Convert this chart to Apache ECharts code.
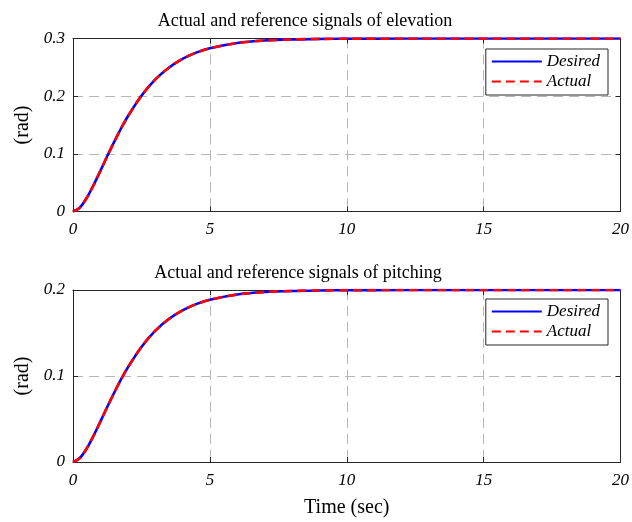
<!DOCTYPE html>
<html>
<head>
<meta charset="utf-8">
<script src="https://cdn.jsdelivr.net/npm/echarts@6/dist/echarts.min.js"></script>
<style>
  html, body { margin: 0; padding: 0; background: #fff; }
  #chart { width: 632px; height: 522px; }
</style>
</head>
<body>
<div id="chart"></div>
<script>
// Time samples (sec)
const time = [0, 0.25, 0.5, 0.75, 1, 1.25, 1.5, 1.75, 2, 2.5, 3, 3.5, 4, 4.5, 5, 6, 7, 8, 9, 10, 12, 14, 16, 18, 20];

// Elevation (rad)
const elevDesired = [0, 0.0068, 0.0235, 0.0457, 0.0705, 0.0958, 0.1204, 0.1435, 0.1647, 0.2007, 0.2286, 0.2494, 0.2646, 0.2755, 0.2831, 0.2922, 0.2964, 0.2984, 0.2993, 0.2997, 0.2999, 0.3, 0.3, 0.3, 0.3];
const elevActual  = [0, 0.0068, 0.0235, 0.0457, 0.0705, 0.0958, 0.1204, 0.1435, 0.1647, 0.2007, 0.2286, 0.2494, 0.2646, 0.2755, 0.2831, 0.2922, 0.2964, 0.2984, 0.2993, 0.2997, 0.2999, 0.3, 0.3, 0.3, 0.3];

// Pitching (rad)
const pitchDesired = [0, 0.0046, 0.0157, 0.0305, 0.047, 0.0639, 0.0802, 0.0957, 0.1098, 0.1338, 0.1524, 0.1662, 0.1764, 0.1836, 0.1887, 0.1948, 0.1976, 0.1989, 0.1995, 0.1998, 0.19995, 0.2, 0.2, 0.2, 0.2];
const pitchActual  = [0, 0.0046, 0.0157, 0.0305, 0.047, 0.0639, 0.0802, 0.0957, 0.1098, 0.1338, 0.1524, 0.1662, 0.1764, 0.1836, 0.1887, 0.1948, 0.1976, 0.1989, 0.1995, 0.1998, 0.19995, 0.2, 0.2, 0.2, 0.2];

const titles = ['Actual and reference signals of elevation', 'Actual and reference signals of pitching'];
const seriesNames = ['Desired', 'Actual'];
const yMax = [0.3, 0.2];

const serif = '"Liberation Serif", "DejaVu Serif", serif';
const pair = (t, v) => t.map((x, i) => [x, v[i]]);

const grids = [
  { left: 73, right: 9, top: 38.5, height: 173 },
  { left: 73, right: 9, top: 290, height: 172 }
];

const frame = { show: true, onZero: false, lineStyle: { color: '#262626', width: 1 } };
const ticks = { show: true, inside: true, length: 5, lineStyle: { color: '#262626' } };
const grid = { show: true, lineStyle: { color: '#b5b5b5', type: [10, 6], width: 1 } };

function xAxis(i) {
  return {
    gridIndex: i, type: 'value', min: 0, max: 20, interval: 5,
    axisLine: frame, axisTick: ticks, splitLine: grid,
    axisLabel: { fontFamily: serif, fontStyle: 'italic', fontSize: 17, color: '#000', margin: 10 },
    name: i === 1 ? 'Time (sec)' : '',
    nameLocation: 'middle', nameGap: 36,
    nameTextStyle: { fontFamily: serif, fontSize: 20, color: '#000' }
  };
}
function xAxisTop(i) {
  return {
    gridIndex: i, type: 'value', min: 0, max: 20, interval: 5, position: 'top',
    axisLine: frame, axisTick: ticks, axisLabel: { show: false }, splitLine: { show: false }
  };
}
function yAxis(i) {
  return {
    gridIndex: i, type: 'value', min: 0, max: yMax[i], interval: 0.1,
    axisLine: frame, axisTick: ticks, splitLine: grid,
    axisLabel: {
      fontFamily: serif, fontStyle: 'italic', fontSize: 17, color: '#000', margin: 8,
      formatter: v => (v === 0 ? '0' : v.toFixed(1))
    },
    name: '(rad)', nameLocation: 'middle', nameGap: 39, nameRotate: 90,
    nameTextStyle: { fontFamily: serif, fontSize: 20, color: '#000' }
  };
}
function yAxisRight(i) {
  return {
    gridIndex: i, type: 'value', min: 0, max: yMax[i], interval: 0.1, position: 'right',
    axisLine: frame, axisTick: ticks, axisLabel: { show: false }, splitLine: { show: false }
  };
}

const dataSets = [[elevDesired, elevActual], [pitchDesired, pitchActual]];
const series = [];
dataSets.forEach((d, i) => {
  series.push({
    name: seriesNames[0], type: 'line', xAxisIndex: i * 2, yAxisIndex: i * 2,
    data: pair(time, d[0]), smooth: 0.3, showSymbol: false, symbol: 'none',
    lineStyle: { color: '#0000ff', width: 2.6 }, itemStyle: { color: '#0000ff' },
    z: 3
  });
  series.push({
    name: seriesNames[1], type: 'line', xAxisIndex: i * 2, yAxisIndex: i * 2,
    data: pair(time, d[1]), smooth: 0.3, showSymbol: false, symbol: 'none',
    lineStyle: { color: '#ff0000', width: 2.6, type: [9, 5] }, itemStyle: { color: '#ff0000' },
    z: 4
  });
});

const legends = [49, 299].map(top => ({
  data: seriesNames, orient: 'vertical', right: 24, top: top,
  itemWidth: 50, itemHeight: 12, itemGap: 3,
  padding: [4, 8, 5, 5],
  itemStyle: { opacity: 0 },
  backgroundColor: '#fff', borderColor: '#262626', borderWidth: 1,
  textStyle: { fontFamily: serif, fontStyle: 'italic', fontSize: 17, color: '#000' }
}));

const chart = echarts.init(document.getElementById('chart'), null, { renderer: 'canvas' });
chart.setOption({
  animation: false,
  backgroundColor: '#fff',
  title: titles.map((t, i) => ({
    text: t, left: i === 0 ? 300 : 293, textAlign: 'center', top: i === 0 ? 7 : 259,
    textStyle: { fontFamily: serif, fontSize: 18, fontWeight: 'normal', color: '#000' }
  })),
  grid: grids,
  xAxis: [xAxis(0), xAxisTop(0), xAxis(1), xAxisTop(1)],
  yAxis: [yAxis(0), yAxisRight(0), yAxis(1), yAxisRight(1)],
  legend: legends,
  series: series
});
</script>
</body>
</html>
